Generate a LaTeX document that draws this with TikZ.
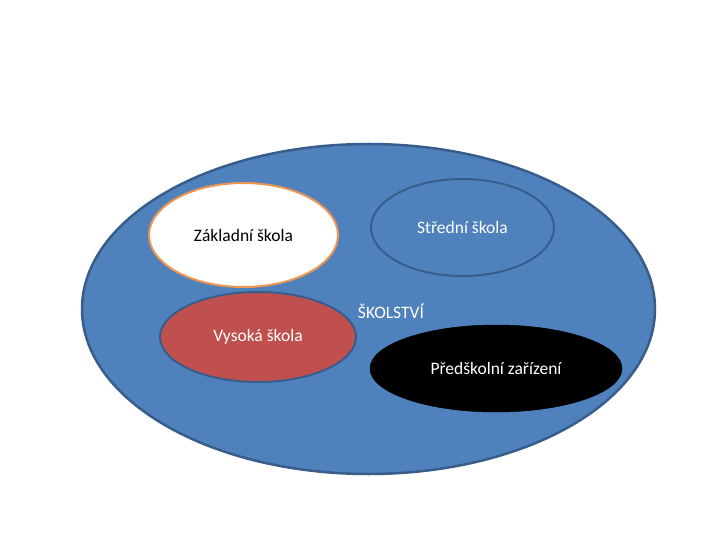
\documentclass[tikz,border=0pt]{standalone}
\usepackage{fontspec}
\setmainfont{Carlito}
\usetikzlibrary{shapes.geometric}
\definecolor{officeblue}{RGB}{79,129,189}
\definecolor{darkblue}{RGB}{56,93,138}
\definecolor{officered}{RGB}{192,80,77}
\definecolor{officeorange}{RGB}{238,150,80}
\tikzset{
  oval/.style={ellipse, draw=darkblue, line width=2pt, inner sep=0pt, font=\fontsize{17.5}{20}\selectfont},
}
\begin{document}
\begin{tikzpicture}[x=1pt,y=-1pt]
  \useasboundingbox (0,0) rectangle (720,540);
  \node[oval, fill=officeblue, line width=2.5pt, minimum width=573pt, minimum height=330pt] (skolstvi) at (368.5,309) {};
  \node[text=white, font=\fontsize{17.5}{20}\selectfont] (label) at (391,311) {ŠKOLSTVÍ};
  \node[oval, fill=white, draw=officeorange, minimum width=189pt, minimum height=104pt] (zakladni) at (243.5,235) {Základní škola};
  \node[oval, fill=officeblue, text=white, minimum width=183pt, minimum height=97pt] (stredni) at (462.5,227.5) {Střední škola};
  \node[oval, fill=officered, text=white, minimum width=196pt, minimum height=90pt] (vysoka) at (258,337) {Vysoká škola};
  \node[oval, fill=black, draw=black, line width=0.5pt, text=white, minimum width=252pt, minimum height=87pt] (predskolni) at (496,368.5) {Předškolní zařízení};
\end{tikzpicture}
\end{document}
